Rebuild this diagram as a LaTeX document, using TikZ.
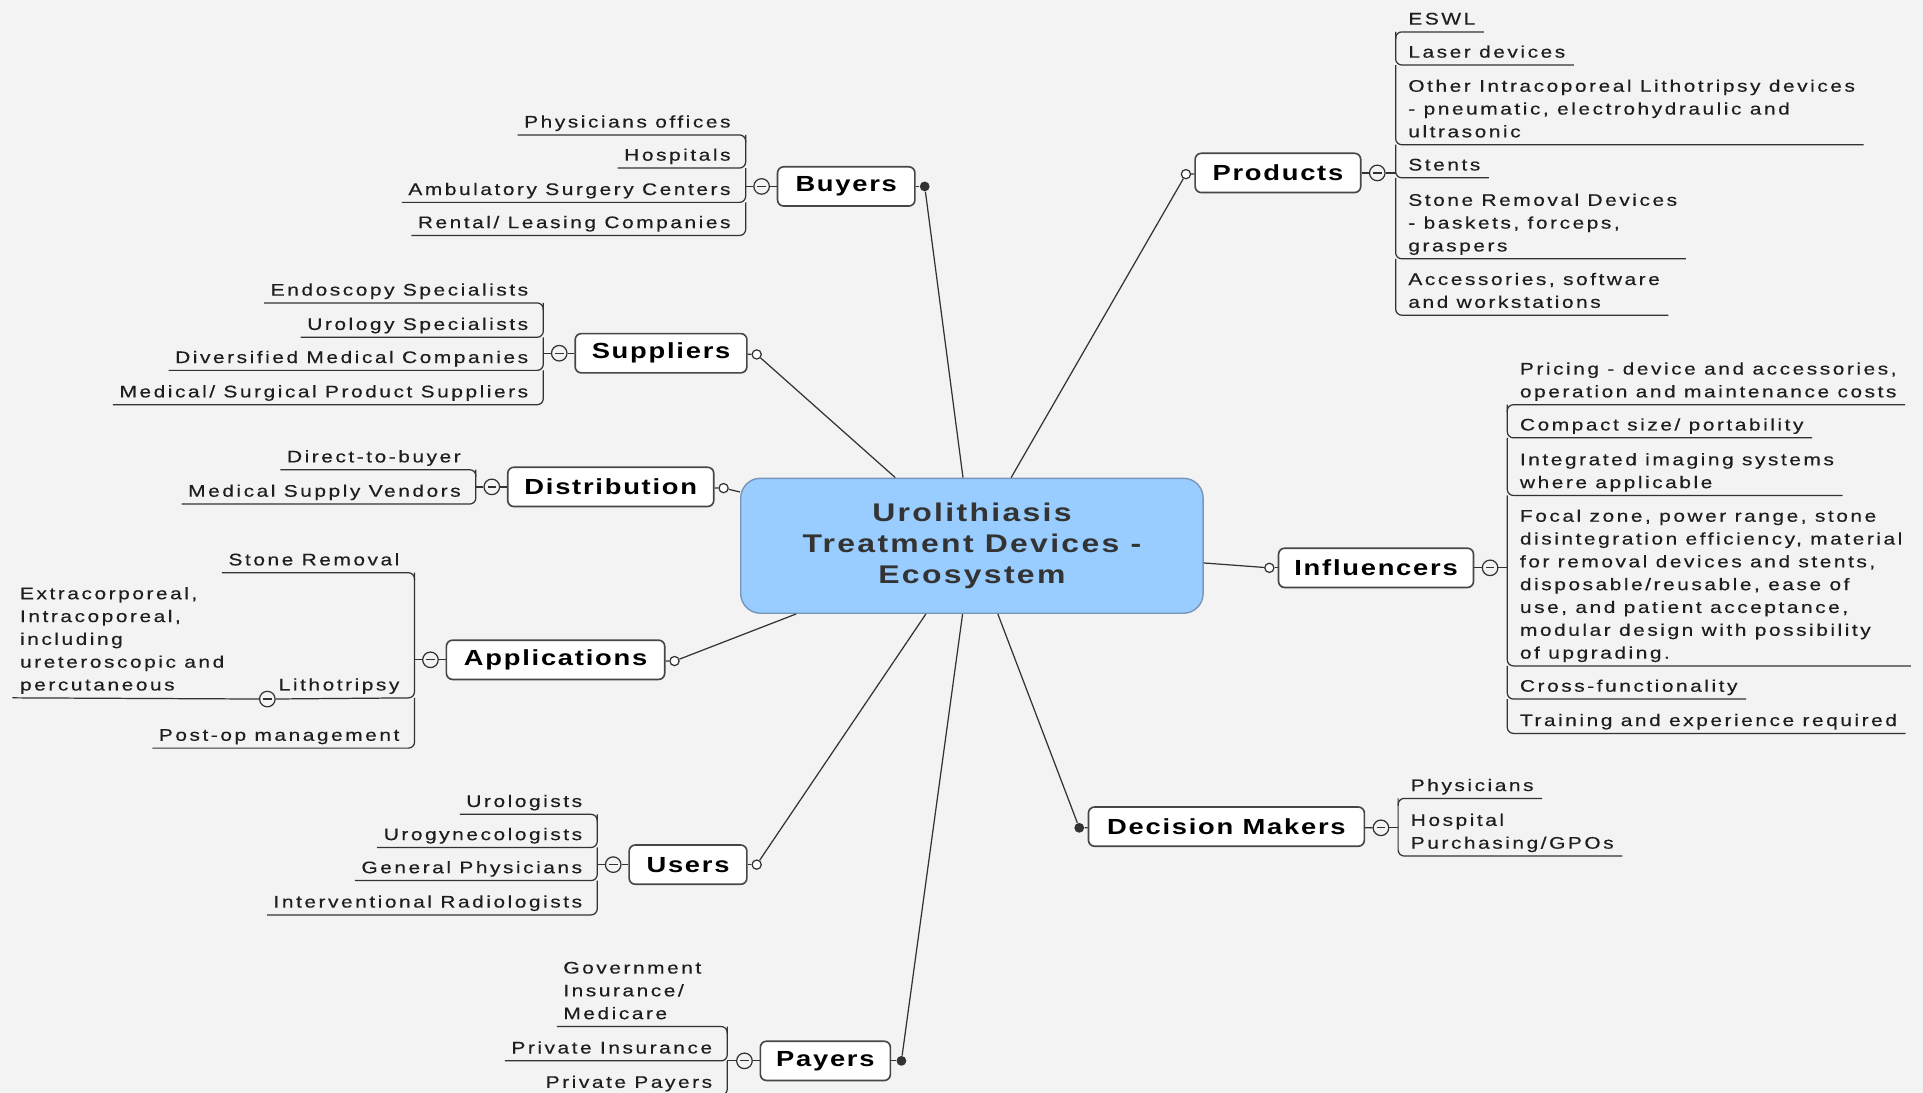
\documentclass[tikz,border=0pt]{standalone}
\usepackage{fontspec}
\setmainfont{Liberation Sans}
\newfontfamily\itemfam[FakeStretch=1.25,LetterSpace=15,FakeBold=0.3]{Liberation Sans}
\newfontfamily\topicfam[FakeStretch=1.25,LetterSpace=8]{Liberation Sans}
\newfontfamily\titlefam[FakeStretch=1.25,LetterSpace=9]{Liberation Sans}
\newcommand\itemfont{\itemfam\fontsize{8.2}{11.16}\selectfont}
\newcommand\topicfont{\topicfam\bfseries\fontsize{10.7}{12.8}\selectfont}
\newcommand\titlefont{\titlefam\bfseries\fontsize{12.5}{15.2}\selectfont}
\definecolor{bgc}{RGB}{243,243,243}
\definecolor{linec}{RGB}{50,50,50}
\definecolor{txtc}{RGB}{30,30,30}
\definecolor{boxc}{RGB}{70,70,70}
\definecolor{ctrfill}{RGB}{153,204,255}
\definecolor{ctrdraw}{RGB}{120,150,185}
\definecolor{titc}{RGB}{51,51,51}
\tikzset{
  itm/.style={font=\itemfont, text=txtc, inner sep=0pt, align=left},
  ul/.style={draw=linec, line width=0.6pt, rounded corners=3pt},
  topic/.style={draw=boxc, fill=white, rounded corners=3pt, line width=0.8pt,
    minimum height=19.2pt, inner sep=0pt, font=\topicfont, text=black},
  ctr/.style={draw=ctrdraw, fill=ctrfill, rounded corners=9.6pt, line width=0.7pt,
    align=center, font=\titlefont, text=titc, inner sep=0pt},
  minus/.style={circle, draw=linec, fill=bgc, line width=0.6pt, minimum size=7.6pt, inner sep=0pt,
    path picture={\draw[linec, line width=0.6pt] ([xshift=1.7pt]path picture bounding box.west) -- ([xshift=-1.7pt]path picture bounding box.east);}},
  odot/.style={circle, draw=linec, fill=white, line width=0.6pt, minimum size=4.5pt, inner sep=0pt},
  fdot/.style={circle, fill=linec, minimum size=4.8pt, inner sep=0pt},
  conn/.style={draw=linec, line width=0.6pt},
}
% right-side item: name, bracket x, underline y, previous y, text
% (base anchor of a multi-line node is the baseline of its last line)
\newcommand\ritem[5]{%
  \node[itm, anchor=base west] (#1) at ({#2+10}, {#3-6}) {#5};
  \draw[ul] (#2,#4) -- (#2,#3) -- ([xshift=4pt]#1.east |- #2,#3);
}
% left-side item
\newcommand\litem[5]{%
  \node[itm, anchor=base east] (#1) at ({#2-12}, {#3-6}) {#5};
  \draw[ul] (#2,#4) -- (#2,#3) -- ([xshift=-3pt]#1.west |- #2,#3);
}
\begin{document}
\begin{tikzpicture}[x=0.6pt,y=-0.6pt]
\fill[bgc] (0,0) rectangle (1568,891);
\useasboundingbox (0,0) rectangle (1568,891);
\clip (0,0) rectangle (1568,891);

% centre
\node[ctr, minimum width=226.2pt, minimum height=66pt] (c) at (792.5,445)
  {Urolithiasis\\Treatment Devices -\\Ecosystem};

% ---------- topics ----------
\node[topic, minimum width=67.2pt] (buy) at (690,152) {Buyers};
\node[fdot] (dbuy) at (754,152) {};
\node[minus] (mbuy) at (621,152) {};
\coordinate (jbuy) at (608,152);

\node[topic, minimum width=84pt] (sup) at (539,288) {Suppliers};
\node[odot] (dsup) at (617,289) {};
\node[minus] (msup) at (456,288) {};
\coordinate (jsup) at (443,288);

\node[topic, minimum width=100.8pt] (dis) at (498,397) {Distribution};
\node[odot] (ddis) at (590,398) {};
\node[minus] (mdis) at (401,397) {};
\coordinate (jdis) at (388,397);

\node[topic, minimum width=106.8pt] (app) at (453,538) {Applications};
\node[odot] (dapp) at (550,539) {};
\node[minus] (mapp) at (351,538) {};
\coordinate (japp) at (338,538);

\node[topic, minimum width=57.6pt] (use) at (561,705) {Users};
\node[odot] (duse) at (617,705) {};
\node[minus] (muse) at (500,705) {};
\coordinate (juse) at (487,705);

\node[topic, minimum width=63.6pt] (pay) at (673,865) {Payers};
\node[fdot] (dpay) at (735,865) {};
\node[minus] (mpay) at (607,865) {};
\coordinate (jpay) at (593,865);

\node[topic, minimum width=81pt] (pro) at (1042,141) {Products};
\node[odot] (dpro) at (967,142) {};
\node[minus] (mpro) at (1123,141) {};
\coordinate (jpro) at (1138,141);

\node[topic, minimum width=95.4pt] (inf) at (1122,463) {Influencers};
\node[odot] (dinf) at (1035,463) {};
\node[minus] (minf) at (1215,463) {};
\coordinate (jinf) at (1229,463);

\node[topic, minimum width=135pt] (dec) at (1000,674) {Decision Makers};
\node[fdot] (ddec) at (880,675) {};
\node[minus] (mdec) at (1126,675) {};
\coordinate (jdec) at (1140,675);

\foreach \t in {buy,sup,dis,app,use,pay,pro,inf,dec}{
  \draw[conn] (d\t) -- (c);
  \draw[conn] (\t) -- (d\t);
  \draw[conn] (\t) -- (m\t);
  \draw[conn] (m\t) -- (j\t);
}

% ---------- Products ----------
\ritem{p1}{1138}{26}{32}{ESWL}
\ritem{p2}{1138}{53}{26}{Laser devices}
\ritem{p3}{1138}{118}{53}{Other Intracoporeal Lithotripsy devices\\- pneumatic, electrohydraulic and\\ultrasonic}
\ritem{p4}{1138}{145}{118}{Stents}
\ritem{p5}{1138}{211}{145}{Stone Removal Devices\\- baskets, forceps,\\graspers}
\ritem{p6}{1138}{257}{211}{Accessories, software\\and workstations}

% ---------- Influencers ----------
\ritem{i1}{1229}{330}{336}{Pricing - device and accessories,\\operation and maintenance costs}
\ritem{i2}{1229}{357}{330}{Compact size/ portability}
\ritem{i3}{1229}{404}{357}{Integrated imaging systems\\where applicable}
\ritem{i4}{1229}{543}{404}{Focal zone, power range, stone\\disintegration efficiency, material\\for removal devices and stents,\\disposable/reusable, ease of\\use, and patient acceptance,\\modular design with possibility\\of upgrading.}
\ritem{i5}{1229}{570}{543}{Cross-functionality}
\ritem{i6}{1229}{598}{570}{Training and experience required}

% ---------- Decision Makers ----------
\ritem{d1}{1140}{651}{657}{Physicians}
\ritem{d2}{1140}{698}{651}{Hospital\\Purchasing/GPOs}

% ---------- Buyers ----------
\litem{b1}{608}{110}{116}{Physicians offices}
\litem{b2}{608}{137}{110}{Hospitals}
\litem{b3}{608}{165}{137}{Ambulatory Surgery Centers}
\litem{b4}{608}{192}{165}{Rental/ Leasing Companies}

% ---------- Suppliers ----------
\litem{s1}{443}{247}{253}{Endoscopy Specialists}
\litem{s2}{443}{275}{247}{Urology Specialists}
\litem{s3}{443}{302}{275}{Diversified Medical Companies}
\litem{s4}{443}{330}{302}{Medical/ Surgical Product Suppliers}

% ---------- Distribution ----------
\litem{t1}{388}{383}{389}{Direct-to-buyer}
\litem{t2}{388}{411}{383}{Medical Supply Vendors}

% ---------- Applications ----------
\litem{a1}{338}{467}{473}{Stone Removal}
\node[itm, anchor=base east] (a2) at (326,563) {Lithotripsy};
\node[minus] (ma2) at (218,570) {};
\draw[ul] (338,467) -- (338,569) -- (ma2);
\node[itm, anchor=base west] (a2c) at (16,563)
  {Extracorporeal,\\Intracoporeal,\\including\\ureteroscopic and\\percutaneous};
\draw[ul] (ma2) -- ([xshift=-3.6pt]a2c.west |- 16,569);
\litem{a3}{338}{610}{569}{Post-op management}

% ---------- Users ----------
\litem{u1}{487}{664}{670}{Urologists}
\litem{u2}{487}{691}{664}{Urogynecologists}
\litem{u3}{487}{718}{691}{General Physicians}
\litem{u4}{487}{746}{718}{Interventional Radiologists}

% ---------- Payers ----------
\node[itm, anchor=base west] (y1) at (459,831) {Government\\Insurance/\\Medicare};
\draw[ul] (593,843) -- (593,837) -- ([xshift=-3pt]y1.west |- 593,837);
\litem{y2}{593}{865}{837}{Private Insurance}
\litem{y3}{593}{893}{865}{Private Payers}
\end{tikzpicture}
\end{document}
